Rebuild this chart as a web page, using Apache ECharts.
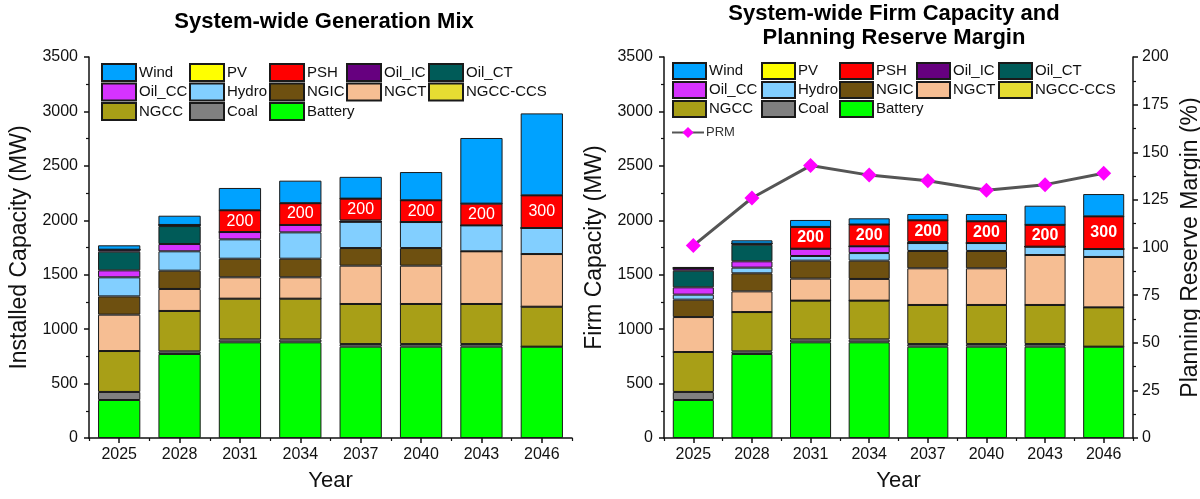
<!DOCTYPE html>
<html>
<head>
<meta charset="utf-8">
<title>System-wide Generation Mix and Firm Capacity</title>
<script src="https://cdn.jsdelivr.net/npm/echarts@6/dist/echarts.min.js"></script>
<style>
  html, body { margin: 0; padding: 0; background: #ffffff; }
  #wrap { display: flex; width: 1200px; height: 499px; }
  #left { width: 580px; height: 499px; }
  #right { width: 620px; height: 499px; }
</style>
</head>
<body>
<div id="wrap"><div id="left"></div><div id="right"></div></div>
<script>
// ---- data (MW unless noted) ----
const years = ['2025', '2028', '2031', '2034', '2037', '2040', '2043', '2046'];

// Installed capacity by technology
const installedBattery = [349, 772, 879, 879, 839, 839, 839, 839];
const installedCoal    = [74, 24, 27, 27, 24, 24, 24, 0];
const installedNGCC    = [376, 371, 374, 374, 368, 368, 368, 367];
const installedNGCCCCS = [0, 0, 0, 0, 0, 0, 0, 0];
const installedNGCT    = [334, 202, 196, 196, 352, 352, 484, 484];
const installedNGIC    = [168, 168, 171, 171, 162, 162, 0, 0];
const installedHydro   = [175, 178, 178, 242, 242, 239, 238, 239];
const installedOilCC   = [64, 67, 67, 68, 0, 0, 0, 0];
const installedOilCT   = [172, 165, 0, 0, 0, 0, 0, 0];
const installedOilIC   = [18, 10, 0, 0, 12, 0, 0, 0];
const installedPSH     = [0, 0, 200, 200, 200, 200, 200, 300];
const installedPV      = [0, 0, 0, 0, 0, 0, 0, 0];
const installedWind    = [40, 85, 205, 207, 200, 259, 603, 753];

// Firm (accredited) capacity by technology
const firmBattery = [349, 772, 879, 879, 839, 839, 839, 839];
const firmCoal    = [74, 24, 27, 27, 24, 24, 24, 0];
const firmNGCC    = [367, 361, 356, 356, 359, 359, 359, 361];
const firmNGCCCCS = [0, 0, 0, 0, 0, 0, 0, 0];
const firmNGCT    = [321, 190, 202, 199, 337, 337, 459, 463];
const firmNGIC    = [160, 166, 165, 168, 159, 159, 0, 0];
const firmHydro   = [46, 52, 43, 70, 73, 73, 77, 73];
const firmOilCC   = [67, 58, 67, 62, 0, 0, 0, 0];
const firmOilCT   = [153, 153, 0, 0, 0, 0, 0, 0];
const firmOilIC   = [25, 9, 0, 0, 9, 0, 0, 0];
const firmPSH     = [0, 0, 200, 200, 200, 200, 200, 300];
const firmPV      = [0, 0, 0, 0, 0, 0, 0, 0];
const firmWind    = [9, 31, 64, 57, 58, 67, 176, 205];

// Planning reserve margin (%)
const prmPercent = [101, 126, 143, 138, 135, 130, 133, 139];

// axis ranges
const capacityMax = 3500, capacityStep = 500;
const prmMax = 200, prmStep = 25;

// ---- styling ----
const FONT = "'Liberation Sans', Arial, Helvetica, sans-serif";
const techColors = {
  'Battery': '#00ff00', 'Coal': '#808080', 'NGCC': '#a89f17', 'NGCC-CCS': '#e6dc32',
  'NGCT': '#f6be93', 'NGIC': '#6e5010', 'Hydro': '#82cfff', 'Oil_CC': '#d633ff',
  'Oil_CT': '#005b58', 'Oil_IC': '#66007f', 'PSH': '#ff0000', 'PV': '#ffff00', 'Wind': '#00a2ff'
};
// stacking order, bottom to top
const stackOrder = ['Battery', 'Coal', 'NGCC', 'NGCC-CCS', 'NGCT', 'NGIC', 'Hydro',
                    'Oil_CC', 'Oil_CT', 'Oil_IC', 'PSH', 'PV', 'Wind'];
const legendColumns = [
  ['Wind', 'Oil_CC', 'NGCC'],
  ['PV', 'Hydro', 'Coal'],
  ['PSH', 'NGIC', 'Battery'],
  ['Oil_IC', 'NGCT'],
  ['Oil_CT', 'NGCC-CCS']
];

const installedByTech = {
  'Battery': installedBattery, 'Coal': installedCoal, 'NGCC': installedNGCC, 'NGCC-CCS': installedNGCCCCS,
  'NGCT': installedNGCT, 'NGIC': installedNGIC, 'Hydro': installedHydro, 'Oil_CC': installedOilCC,
  'Oil_CT': installedOilCT, 'Oil_IC': installedOilIC, 'PSH': installedPSH, 'PV': installedPV, 'Wind': installedWind
};
const firmByTech = {
  'Battery': firmBattery, 'Coal': firmCoal, 'NGCC': firmNGCC, 'NGCC-CCS': firmNGCCCCS,
  'NGCT': firmNGCT, 'NGIC': firmNGIC, 'Hydro': firmHydro, 'Oil_CC': firmOilCC,
  'Oil_CT': firmOilCT, 'Oil_IC': firmOilIC, 'PSH': firmPSH, 'PV': firmPV, 'Wind': firmWind
};

const AXIS_COLOR = '#111';
const plainNumber = v => String(v);

function buildOption(cfg) {
  const grid = { left: cfg.gridLeft, right: cfg.gridRight, top: 57, bottom: 61, outerBoundsMode: 'none', containLabel: false };

  const series = stackOrder.map(name => {
    const s = {
      name: name,
      type: 'bar',
      stack: 'capacity',
      xAxisIndex: 0,
      yAxisIndex: 0,
      barWidth: '70%',
      data: cfg.values[name],
      itemStyle: { color: techColors[name], borderColor: '#1a1a1a', borderWidth: 1 },
      emphasis: { disabled: true }
    };
    if (name === 'PSH') {
      s.label = {
        show: true,
        position: 'inside',
        color: '#ffffff',
        fontFamily: FONT,
        fontSize: 16,
        fontWeight: cfg.labelBold ? 'bold' : 'normal',
        formatter: p => (p.value > 0 ? String(p.value) : '')
      };
    }
    return s;
  });

  const legends = legendColumns.map((col, i) => ({
    orient: 'vertical',
    left: cfg.legendLeft[i],
    top: cfg.legendTop,
    itemWidth: cfg.legendItemW,
    itemHeight: cfg.legendItemH,
    itemGap: cfg.legendGap,
    padding: 0,
    icon: 'rect',
    selectedMode: false,
    textStyle: { fontFamily: FONT, fontSize: 15, lineHeight: cfg.legendItemH, color: '#111', padding: [0, 0, 0, -2] },
    data: col
  }));

  const yAxes = [{
    type: 'value',
    gridIndex: 0,
    min: 0, max: capacityMax, interval: capacityStep,
    name: cfg.yName,
    nameLocation: 'middle',
    nameGap: cfg.yNameGap,
    nameTextStyle: { fontFamily: FONT, fontSize: 23, color: '#111' },
    axisLine: { show: true, lineStyle: { color: AXIS_COLOR, width: 1.5 } },
    axisTick: { show: true, length: 5, lineStyle: { color: AXIS_COLOR, width: 1.5 } },
    minorTick: { show: true, splitNumber: 2, length: 3, lineStyle: { color: AXIS_COLOR, width: 1.2 } },
    splitLine: { show: false },
    minorSplitLine: { show: false },
    axisLabel: { fontFamily: FONT, fontSize: 16, color: '#111', margin: 11, formatter: plainNumber }
  }];

  const xAxes = [{
    type: 'category',
    gridIndex: 0,
    data: years,
    name: 'Year',
    nameLocation: 'middle',
    nameGap: 32,
    nameTextStyle: { fontFamily: FONT, fontSize: 22, color: '#111' },
    axisLine: { show: true, lineStyle: { color: AXIS_COLOR, width: 1.5 } },
    axisTick: { show: true, alignWithLabel: true, length: 5, lineStyle: { color: AXIS_COLOR, width: 1.5 } },
    axisLabel: { fontFamily: FONT, fontSize: 16, color: '#111', margin: 9 },
    splitLine: { show: false }
  }, {
    // boundary ticks between categories
    type: 'category',
    gridIndex: 1,
    data: years,
    axisLine: { show: false },
    axisTick: { show: true, length: 3, lineStyle: { color: AXIS_COLOR, width: 1.2 } },
    axisLabel: { show: false },
    splitLine: { show: false }
  }];

  yAxes.push({ type: 'value', gridIndex: 1, show: false, min: 0, max: capacityMax });

  const graphic = cfg.titleLines.map((t, i) => ({
    type: 'text',
    x: cfg.titleX,
    y: cfg.titleY + i * 24,
    style: {
      text: t,
      font: 'bold 22px ' + FONT,
      fill: '#000',
      align: 'center', verticalAlign: 'middle',
      textAlign: 'center', textVerticalAlign: 'middle'
    }
  }));

  return {
    animation: false,
    textStyle: { fontFamily: FONT },
    grid: [grid, Object.assign({}, grid)],
    xAxis: xAxes,
    yAxis: yAxes,
    legend: legends,
    graphic: graphic,
    series: series
  };
}

// ---- left: installed capacity ----
const leftChart = echarts.init(document.getElementById('left'), null, { renderer: 'canvas' });
leftChart.setOption(buildOption({
  values: installedByTech,
  gridLeft: 89, gridRight: 8,
  yName: 'Installed Capacity (MW)', yNameGap: 55,
  legendLeft: [101, 189, 269, 346, 428], legendTop: 63, legendGap: 0.5,
  legendItemW: 34, legendItemH: 17,
  labelBold: false,
  titleLines: ['System-wide Generation Mix'], titleX: 324, titleY: 22
}));

// ---- right: firm capacity + planning reserve margin ----
const rightChart = echarts.init(document.getElementById('right'), null, { renderer: 'canvas' });
const rightOption = buildOption({
  values: firmByTech,
  gridLeft: 84, gridRight: 67,
  yName: 'Firm Capacity (MW)', yNameGap: 46,
  legendLeft: [92, 181, 259, 336, 418], legendTop: 62, legendGap: 1,
  legendItemW: 33, legendItemH: 16,
  labelBold: true,
  titleLines: ['System-wide Firm Capacity and', 'Planning Reserve Margin'], titleX: 314, titleY: 14
});
rightOption.yAxis.push({
  type: 'value',
  gridIndex: 0,
  position: 'right',
  min: 0, max: prmMax, interval: prmStep,
  name: 'Planning Reserve Margin (%)',
  nameLocation: 'middle',
  nameGap: 37,
  nameTextStyle: { fontFamily: FONT, fontSize: 23, color: '#111' },
  axisLine: { show: true, lineStyle: { color: AXIS_COLOR, width: 1.5 } },
  axisTick: { show: true, length: 5, lineStyle: { color: AXIS_COLOR, width: 1.5 } },
  minorTick: { show: true, splitNumber: 2, length: 3, lineStyle: { color: AXIS_COLOR, width: 1.2 } },
  splitLine: { show: false },
  minorSplitLine: { show: false },
  axisLabel: { fontFamily: FONT, fontSize: 16, color: '#111', margin: 9, formatter: plainNumber }
});
rightOption.series.push({
  name: 'PRM',
  type: 'line',
  xAxisIndex: 0,
  yAxisIndex: 2,
  data: prmPercent,
  symbol: 'diamond',
  symbolSize: 15,
  z: 5,
  lineStyle: { color: '#555555', width: 3 },
  itemStyle: { color: '#ff00ff' },
  emphasis: { disabled: true }
});
rightOption.legend.push({
  left: 91, top: 126,
  itemWidth: 32, itemHeight: 14,
  padding: 0,
  selectedMode: false,
  textStyle: { fontFamily: FONT, fontSize: 13, color: '#333', padding: [0, 0, 0, -3] },
  data: ['PRM']
});
rightChart.setOption(rightOption);
</script>
</body>
</html>
